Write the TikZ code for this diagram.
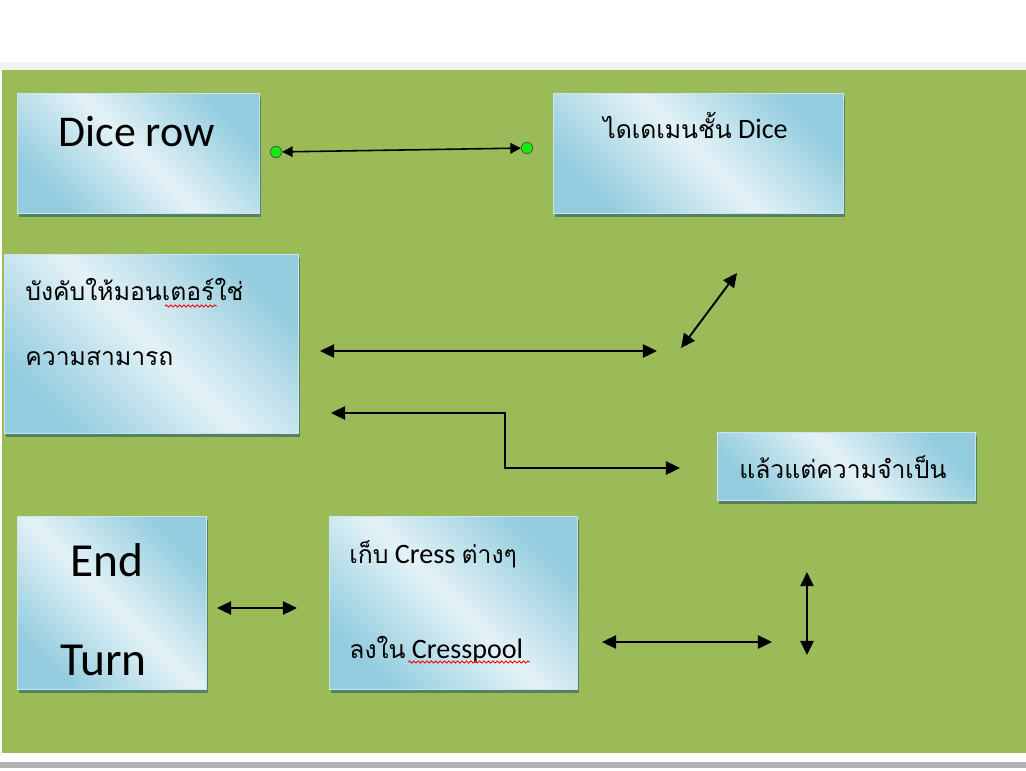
\documentclass[tikz,border=0pt]{standalone}
\usepackage{fontspec}
\setmainfont{Carlito}
\newfontfamily\thai[Script=Thai,Scale=0.88]{Loma}
\usetikzlibrary{arrows.meta,shadows,decorations.pathmorphing}

\definecolor{bggreen}{RGB}{155,187,89}
\definecolor{boxdark}{RGB}{146,204,222}
\definecolor{boxlight}{RGB}{228,242,247}
\definecolor{shadowgreen}{RGB}{84,128,100}
\definecolor{dotgreen}{RGB}{20,235,20}

\begin{document}
\begin{tikzpicture}[x=0.02cm, y=-0.02cm,
    box/.style={draw=boxdark!50!white, line width=0.4pt, anchor=north west, inner sep=0pt,
        top color=boxdark, bottom color=boxdark, middle color=boxlight, shading angle=-45,
        drop shadow={shadow xshift=0.04cm, shadow yshift=-0.07cm, fill=shadowgreen, opacity=1}},
    dbl/.style={{Triangle[length=8pt,width=7.5pt]}-{Triangle[length=8pt,width=7.5pt]}, line width=1.1pt},
    thin/.style={{Triangle[length=6pt,width=6pt]}-{Triangle[length=6pt,width=6pt]}, line width=0.9pt},
    dot/.style={circle, draw=black!70, fill=dotgreen, inner sep=0pt, minimum size=6.5pt},
    spell/.style={red, line width=0.5pt, decorate, decoration={snake, amplitude=0.6pt, segment length=2.5pt}},
    big/.style={font=\fontsize{25}{30}\selectfont, anchor=base west, inner sep=0pt},
    txt/.style={font=\fontsize{16}{19}\selectfont, anchor=base west, inner sep=0pt}]
    \useasboundingbox (0,0) rectangle (1026,770);
    % page and green slide
    \fill[white] (0,0) rectangle (1026,770);
    \fill[black!5] (0,62) rectangle (1026,70);
    \fill[bggreen] (2,70) rectangle (1026,753);
    \fill[black!30] (0,762) rectangle (1026,768);

    % boxes
    \node[box, minimum width=4.84cm, minimum height=2.4cm] (dicerow) at (17,93) {};
    \node[box, minimum width=5.8cm, minimum height=2.4cm] (dicemain) at (553,93) {};
    \node[box, minimum width=5.88cm, minimum height=3.58cm] (force) at (4,254) {};
    \node[box, minimum width=5.16cm, minimum height=1.36cm] (depend) at (717,432) {};
    \node[box, minimum width=3.78cm, minimum height=3.46cm] (endturn) at (17,516) {};
    \node[box, minimum width=4.96cm, minimum height=3.46cm] (cress) at (329,516) {};

    % texts
    \node[big] (dicerowtxt) at (58,147) {Dice row};
    \node[txt] (dicemaintxt) at (603,139) {{\thai ไดเดเมนชั้น} Dice};
    \node[txt] (forcetxta) at (25,300) {\thai บังคับให้มอนเตอร์ใช่};
    \node[txt] (forcetxtb) at (25,365) {\thai ความสามารถ};
    \node[txt] (dependtxt) at (739,478) {\thai แล้วแต่ความจำเป็น};
    \node[big, font=\fontsize{27}{32}\selectfont] (endtxt) at (70,576) {End};
    \node[big, font=\fontsize{27}{32}\selectfont] (turntxt) at (60,675) {Turn};
    \node[txt] (cresstxta) at (349,563) {{\thai เก็บ} Cress {\thai ต่างๆ}};
    \node[txt] (cresstxtb) at (349,658) {{\thai ลงใน} Cresspool};
    \draw[spell] (165,306) -- (217,306);
    \draw[spell] (408,662) -- (530,662);

    % connectors
    \node[dot] (dotl) at (276,152) {};
    \node[dot] (dotr) at (527,148) {};
    \draw[thin] (dotl) -- (dotr);

    \coordinate (a1) at (320,351);
    \coordinate (a2) at (657,351);
    \coordinate (b1) at (681,348);
    \coordinate (b2) at (737,273);
    \coordinate (c1) at (331,413);
    \coordinate (cbend) at (505,413);
    \coordinate (c2) at (680,468);
    \coordinate (d1) at (217,608);
    \coordinate (d2) at (297,608);
    \coordinate (e1) at (602,642);
    \coordinate (e2) at (772,642);
    \coordinate (f1) at (807,572);
    \coordinate (f2) at (807,655);
    \draw[dbl] (a1) -- (a2);
    \draw[dbl] (b1) -- (b2);
    \draw[dbl] (c1) -- (cbend) |- (c2);
    \draw[dbl] (d1) -- (d2);
    \draw[dbl] (e1) -- (e2);
    \draw[dbl] (f1) -- (f2);
\end{tikzpicture}
\end{document}
